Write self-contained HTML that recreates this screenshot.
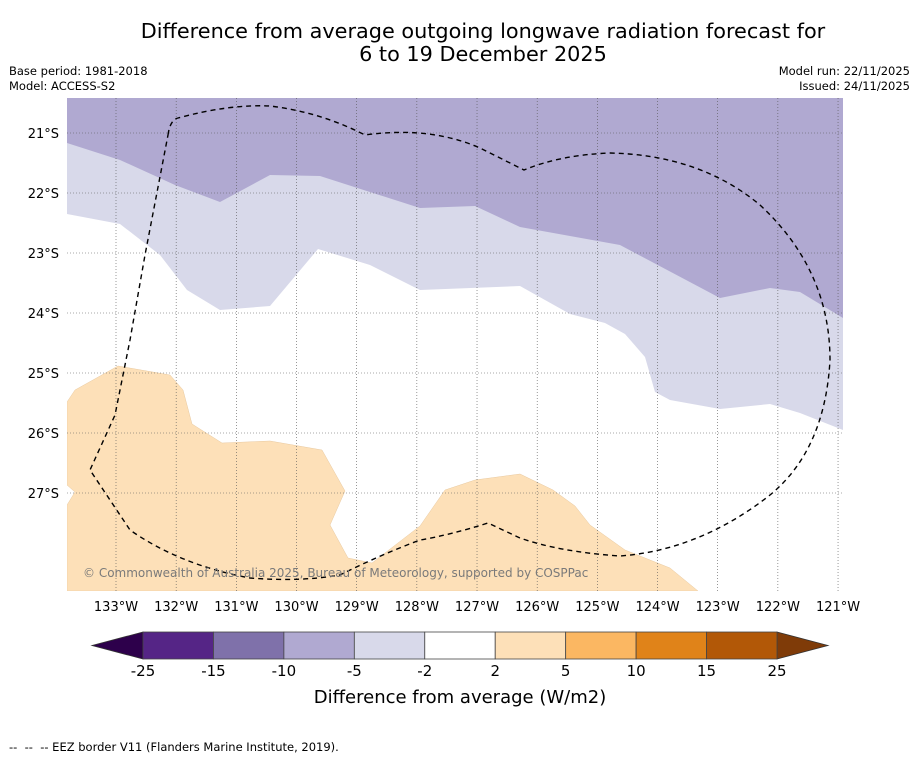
<!DOCTYPE html>
<html><head><meta charset="utf-8"><style>
body{margin:0;background:#fff;width:919px;height:758px;overflow:hidden;font-family:"DejaVu Sans","Liberation Sans",sans-serif}
svg text{font-family:"DejaVu Sans","Liberation Sans",sans-serif}
</style></head><body>
<svg id="s" width="919" height="758" viewBox="0 0 919 758" xmlns="http://www.w3.org/2000/svg">
<text x="483" y="38" font-size="20.8" text-anchor="middle">Difference from average outgoing longwave radiation forecast for</text>
<text x="483" y="61" font-size="20.8" text-anchor="middle">6 to 19 December 2025</text>
<text x="9" y="75" font-size="11.5">Base period: 1981-2018</text>
<text x="9" y="90" font-size="11.5">Model: ACCESS-S2</text>
<text x="910" y="75" font-size="11.5" text-anchor="end">Model run: 22/11/2025</text>
<text x="910" y="90" font-size="11.5" text-anchor="end">Issued: 24/11/2025</text>
<defs><clipPath id="mc"><rect x="67" y="98" width="776" height="493"/></clipPath></defs>
<g clip-path="url(#mc)">
<rect x="67" y="98" width="776" height="493" fill="#fff"/>
<polygon fill="#d8d9ea" points="67,98 843,98 843,430 800,413 770,404 720,409 670,400 655,392 645,357 625,334 605,323 570,314 520,286 420,290 370,265 318,249 270,306 220,310 187,290 160,255 120,224 67,214"/>
<polygon fill="#b0a9d1" points="67,98 843,98 843,318 800,292 770,288 720,298 620,245 520,227 475,206 420,208 320,176 270,175 220,202 175,185 120,160 67,143"/>
<polygon fill="#fde0b8" stroke="#e8c9a0" stroke-width="0.5" points="67,402 75,390 118,366 170,375 183,390 192,424 222,443 270,441 322,450 345,491 330,525 348,558 372,563 420,526 445,490 475,480 520,474 553,490 575,506 590,525 625,550 670,568 698,591 67,591 67,505 75,492 67,485"/>
<g id="grid"></g>
<path fill="none" stroke="#000" stroke-width="1.4" stroke-dasharray="5,4" d="M168,135 Q170,120 178,118 Q230,104 270,106 Q320,112 365,135 Q430,126 480,148 L524,170 Q560,155 610,153 Q700,155 760,205 Q830,270 830,360 Q825,450 770,495 Q700,550 620,556 Q560,552 520,538 L488,523 Q450,535 420,540 Q380,555 340,575 Q300,582 250,578 Q180,565 130,530 L90,470 L115,415 L130,340 L145,255 L168,135"/>
<text x="83" y="577" font-size="12" fill="#7a7a7a">© Commonwealth of Australia 2025, Bureau of Meteorology, supported by COSPPac</text>
</g>
<g id="axes"></g>
<g id="cbar"></g>
<text x="460" y="703" font-size="18" text-anchor="middle">Difference from average (W/m2)</text>
<text x="9" y="751" font-size="11.5" xml:space="preserve">--  --  -- EEZ border V11 (Flanders Marine Institute, 2019).</text>
</svg>
<script>
const lons=[133,132,131,130,129,128,127,126,125,124,123,122,121];
const lats=[21,22,23,24,25,26,27];
const cbLevels=["-25","-15","-10","-5","-2","2","5","10","15","25"];
const cbColors=["#552586","#7f71aa","#b0a9d1","#d8d9ea","#ffffff","#fde0b8","#fbb762","#e08319","#b25807"];
const NS="http://www.w3.org/2000/svg";
function X(lon){return 116+(133-lon)*60.17;}
function Y(lat){return 133+(lat-21)*60;}
function mk(t,a,p){const e=document.createElementNS(NS,t);for(const k in a)e.setAttribute(k,a[k]);p.appendChild(e);return e;}
const grid=document.getElementById('grid'),axes=document.getElementById('axes'),cb=document.getElementById('cbar');
lons.forEach(l=>{
 const ln=mk('line',{x1:X(l),x2:X(l),y1:98,y2:591,stroke:'#555','stroke-width':0.6,'stroke-dasharray':'1,2'},grid);
 
 
 const t=mk('text',{x:X(l),y:611,'font-size':13,'text-anchor':'middle'},axes);t.textContent=l+'°W';
 
 
});
lats.forEach(l=>{
 const ln=mk('line',{x1:67,x2:843,y1:Y(l),y2:Y(l),stroke:'#555','stroke-width':0.6,'stroke-dasharray':'1,2'},grid);
 
 
 const t=mk('text',{x:59,y:Y(l)+5,'font-size':13,'text-anchor':'end'},axes);t.textContent=l+'°S';
 
 
});
const x0=143,x1=777,y0=632,h=27,w=(x1-x0)/cbColors.length;
const lt=mk('polygon',{points:`92,${y0+h/2} ${x0},${y0} ${x0},${y0+h}`,fill:'#2d004b',stroke:'#333','stroke-width':0.8},cb);


const rt=mk('polygon',{points:`828,${y0+h/2} ${x1},${y0} ${x1},${y0+h}`,fill:'#7f3b08',stroke:'#333','stroke-width':0.8},cb);


cbColors.forEach((c,i)=>{
 const r=mk('rect',{x:x0+i*w,y:y0,width:w,height:h,fill:c,stroke:'#444','stroke-width':0.8},cb);
 
 
});
cbLevels.forEach((v,i)=>{
 const t=mk('text',{x:x0+i*w,y:676,'font-size':15,'text-anchor':'middle'},cb);t.textContent=v;
 
 
});
</script>
</body></html>
